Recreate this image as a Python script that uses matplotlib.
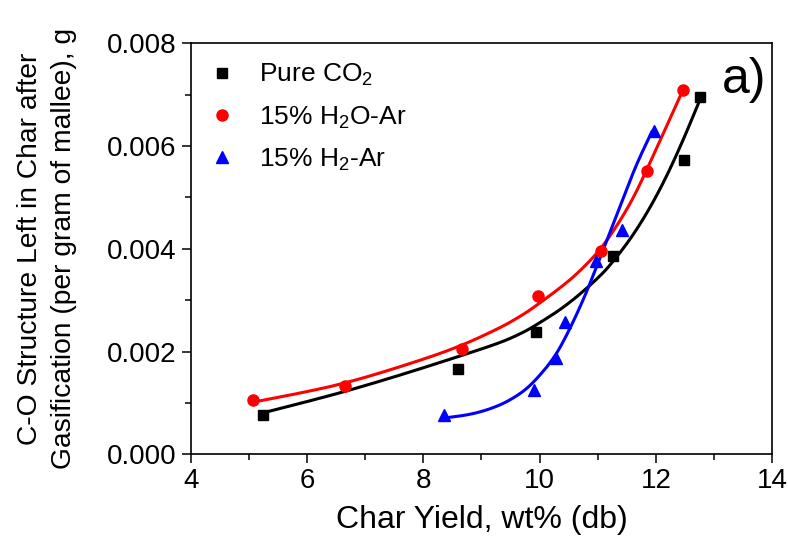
import numpy as np
import matplotlib
matplotlib.use('Agg')
import matplotlib.pyplot as plt

plt.rcParams['font.family'] = ['Liberation Sans', 'DejaVu Sans']
plt.rcParams['mathtext.fontset'] = 'custom'
plt.rcParams['mathtext.rm'] = 'Liberation Sans'

# char yield (wt%) and C-O structure left (g per g mallee)
co2_x = [5.25, 8.59, 9.93, 11.26, 12.48, 12.75]
co2_y = [0.00076, 0.00167, 0.00238, 0.00386, 0.00572, 0.00695]

h2o_x = [5.07, 6.66, 8.67, 9.97, 11.06, 11.84, 12.46]
h2o_y = [0.00105, 0.00132, 0.00205, 0.00309, 0.00395, 0.00551, 0.00709]

h2_x = [8.35, 9.90, 10.28, 10.43, 10.97, 11.41, 11.97]
h2_y = [0.00076, 0.00125, 0.00187, 0.00258, 0.00377, 0.00436, 0.00630]

# fitted curves as drawn in the picture
co2_fit_x = [5.22, 5.88, 6.65, 7.60, 8.57, 9.32, 9.66, 9.89, 10.46, 11.04,
             11.32, 11.61, 11.90, 12.18, 12.47, 12.73]
co2_fit_y = [0.00080, 0.00099, 0.00122, 0.00154, 0.00189, 0.00217, 0.00234,
             0.00248, 0.00289, 0.00346, 0.00383, 0.00427, 0.00480, 0.00540,
             0.00612, 0.00683]

h2o_fit_x = [5.05, 5.88, 6.65, 7.60, 8.57, 9.32, 9.66, 9.89, 10.46, 10.75,
             11.04, 11.32, 11.61, 11.90, 12.18, 12.44]
h2o_fit_y = [0.00101, 0.00119, 0.00138, 0.00170, 0.00207, 0.00246, 0.00268,
             0.00285, 0.00333, 0.00363, 0.00398, 0.00443, 0.00498, 0.00568,
             0.00638, 0.00703]

h2_fit_x = [8.32, 8.86, 9.32, 9.66, 9.89, 10.23, 10.46, 10.75, 10.98, 11.21,
            11.44, 11.67, 11.93]
h2_fit_y = [0.00070, 0.00078, 0.00095, 0.00117, 0.00139, 0.00184, 0.00230,
            0.00300, 0.00365, 0.00433, 0.00500, 0.00566, 0.00628]

labels = ['Pure CO$_2$', '15% H$_2$O-Ar', '15% H$_2$-Ar']


def chaikin(fx, fy, n=4):
    # corner cutting, only to draw the read line without kinks
    p = np.column_stack([fx, fy])
    for _ in range(n):
        q = 0.75 * p[:-1] + 0.25 * p[1:]
        r = 0.25 * p[:-1] + 0.75 * p[1:]
        mid = np.empty((2 * len(q), 2))
        mid[0::2] = q
        mid[1::2] = r
        p = np.vstack([p[:1], mid, p[-1:]])
    return p[:, 0], p[:, 1]


fig = plt.figure(figsize=(7.88, 5.49), dpi=100)
ax = fig.add_axes([0.242, 0.1725, 0.738, 0.7485])

series = [(co2_x, co2_y, co2_fit_x, co2_fit_y, 'black', 's', 7),
          (h2o_x, h2o_y, h2o_fit_x, h2o_fit_y, 'red', 'o', 8),
          (h2_x, h2_y, h2_fit_x, h2_fit_y, 'blue', '^', 9)]

for (x, y, fx, fy, c, m, ms), lab in zip(series, labels):
    xs, ys = chaikin(fx, fy)
    ax.plot(xs, ys, color=c, lw=2.2, zorder=2)
    ax.plot(x, y, ls='none', marker=m, color=c, ms=ms, label=lab, zorder=3)

ax.set_xlim(4, 14)
ax.set_ylim(0, 0.008)
ax.set_xticks([4, 6, 8, 10, 12, 14])
ax.set_yticks([0, 0.002, 0.004, 0.006, 0.008])
ax.set_yticklabels(['0.000', '0.002', '0.004', '0.006', '0.008'])
ax.set_xticks([5, 7, 9, 11, 13], minor=True)
ax.set_yticks([0.001, 0.003, 0.005, 0.007], minor=True)
ax.tick_params(which='major', direction='out', length=6.5, width=1.1,
               labelsize=20, top=False, right=False)
ax.tick_params(which='minor', direction='out', length=4, width=1.1,
               top=False, right=False)
for s in ax.spines.values():
    s.set_linewidth(1.2)

ax.set_xlabel('Char Yield, wt% (db)', fontsize=23, labelpad=8)
ax.set_ylabel('C-O Structure Left in Char after\nGasification (per gram of mallee), g',
              fontsize=20.3, labelpad=22, linespacing=1.4)

ax.text(13.13, 0.00703, 'a)', fontsize=36, va='baseline')

ax.legend(loc='upper left', frameon=False, fontsize=19, handlelength=1.0,
          handletextpad=0.9, labelspacing=0.6, borderaxespad=0.3,
          bbox_to_anchor=(0.0, 1.0))

fig.savefig('out.png', dpi=100)
